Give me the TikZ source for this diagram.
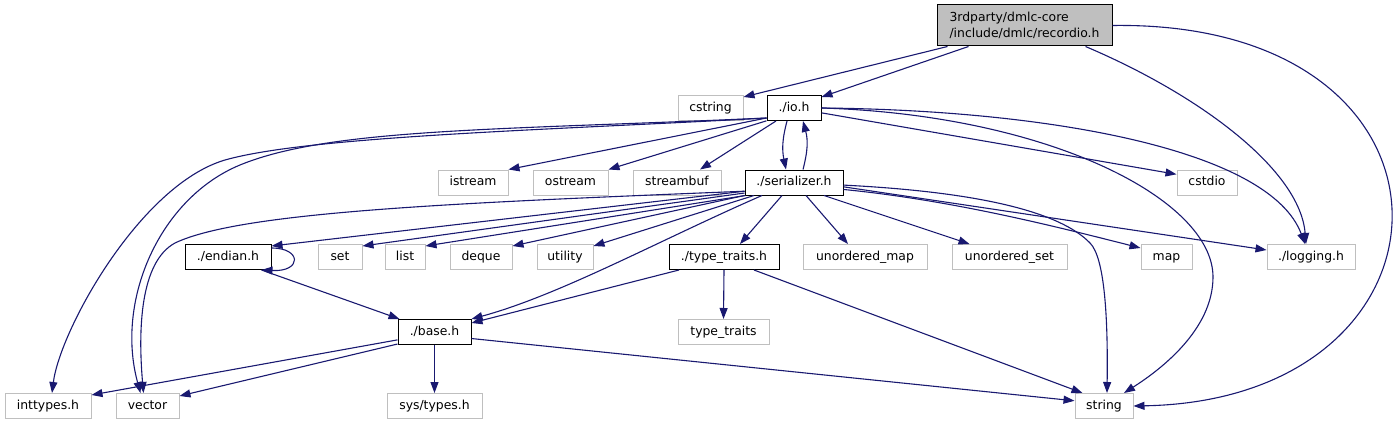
\documentclass[tikz,border=0pt]{standalone}
\usepackage{fontspec}
\setmainfont{DejaVu Sans}
\usetikzlibrary{arrows.meta}
\definecolor{midnight}{HTML}{191970}
\definecolor{grey75}{HTML}{BFBFBF}

\begin{document}
\begin{tikzpicture}[x=1pt, y=-1pt, >={Triangle[length=11pt,width=8pt]},
	every node/.style={font=\fontsize{12.4}{16}\selectfont, inner sep=0pt, minimum height=25pt, text height=9.4pt, text depth=2.6pt},
	hdr/.style={draw=black, line width=1pt},
	ext/.style={draw=grey75, line width=1pt},
	inc/.style={->, midnight, line width=1.1pt}]
	\useasboundingbox (0,0) rectangle (1397,425);
	\node[hdr, fill=grey75, minimum width=175pt, minimum height=41pt, align=left, text height={}, text depth={}] (rec) at (1024.5,25.5) {3rdparty/dmlc-core\\/include/dmlc/recordio.h};
	\node[ext, minimum width=65pt] (cstring) at (710.5,108) {cstring};
	\node[hdr, minimum width=54pt] (io) at (794,108) {./io.h};
	\node[ext, minimum width=70pt] (istream) at (473,182.5) {istream};
	\node[ext, minimum width=75pt] (ostream) at (570.5,182.5) {ostream};
	\node[ext, minimum width=88pt] (streambuf) at (677,182.5) {streambuf};
	\node[hdr, minimum width=98pt] (ser) at (794,182.5) {./serializer.h};
	\node[ext, minimum width=60pt] (cstdio) at (1207,182.5) {cstdio};
	\node[hdr, minimum width=86pt] (endian) at (228,257) {./endian.h};
	\node[ext, minimum width=44pt] (set) at (340,257) {set};
	\node[ext, minimum width=40pt] (list) at (405,257) {list};
	\node[ext, minimum width=62pt] (deque) at (481,257) {deque};
	\node[ext, minimum width=56pt] (utility) at (565,257) {utility};
	\node[hdr, minimum width=110pt] (tt) at (724,257) {./type\_traits.h};
	\node[ext, minimum width=124pt] (umap) at (865,257) {unordered\_map};
	\node[ext, minimum width=115pt] (uset) at (1009.5,257) {unordered\_set};
	\node[ext, minimum width=51pt] (map) at (1166.5,257) {map};
	\node[ext, minimum width=88pt] (logging) at (1311,257) {./logging.h};
	\node[hdr, minimum width=73pt] (base) at (434.5,332) {./base.h};
	\node[ext, minimum width=91pt] (stt) at (723.5,332) {type\_traits};
	\node[ext, minimum width=86pt] (inttypes) at (48,406) {inttypes.h};
	\node[ext, minimum width=63pt] (vector) at (147.5,406) {vector};
	\node[ext, minimum width=95pt] (systypes) at (434.5,406) {sys/types.h};
	\node[ext, minimum width=58pt] (string) at (1104,406) {string};

	\draw[inc] ([xshift=-77pt]rec.south) -- ([yshift=-2pt]cstring.north east);
	\draw[inc] ([xshift=-56pt]rec.south) -- ([yshift=-2pt]io.north east);
	\draw[inc] ([xshift=61pt]rec.south) .. controls (1200,95) and (1300,170) .. ([xshift=-5pt]logging.north);
	\draw[inc] (rec.east) .. controls (1485,20) and (1475,400) .. (string.east);

	\draw[inc] (io.200) -- (istream.north east);
	\draw[inc] (io.205) -- (ostream.north east);
	\draw[inc] ([xshift=-18pt]io.south) -- ([xshift=23pt]streambuf.north);
	\draw[inc] ([xshift=-7pt]io.south) .. controls (782,140) and (782,150) .. ([xshift=-8pt]ser.north);
	\draw[inc] ([xshift=9pt]ser.north) .. controls (808,150) and (808,140) .. ([xshift=9pt]io.south);
	\draw[inc] (io.-10) -- (cstdio.165);
	\draw[inc] (io.east) .. controls (1050,110) and (1270,150) .. ([xshift=-6pt]logging.north);
	\draw[inc] (io.east) .. controls (1050,115) and (1213,200) .. (1213,277) .. controls (1213,330) and (1160,370) .. ([xshift=20pt]string.north);
	\draw[inc] (io.200) .. controls (550,130) and (310,136) .. (225,160) .. controls (140,185) and (60,330) .. ([xshift=4pt]inttypes.north);
	\draw[inc] (io.200) .. controls (500,130) and (330,128) .. (240,165) .. controls (160,198) and (115,300) .. ([xshift=-7pt]vector.north);

	\draw[inc] (ser.190) .. controls (450,203) and (240,212) .. (175,243) .. controls (140,262) and (138,330) .. ([xshift=-4pt]vector.north);
	\draw[inc] (ser.190) -- ([yshift=-2pt]endian.north east);
	\draw[inc] (ser.192) -- ([yshift=-2pt]set.north east);
	\draw[inc] (ser.195) -- ([yshift=-2pt]list.north east);
	\draw[inc] (ser.south west) -- ([yshift=-2pt]deque.north east);
	\draw[inc] ([xshift=-40pt]ser.south) -- ([yshift=-2pt]utility.north east);
	\draw[inc] ([xshift=-32pt]ser.south) .. controls (660,240) and (560,295) .. (base.north east);
	\draw[inc] ([xshift=-12pt]ser.south) -- ([xshift=16pt]tt.north);
	\draw[inc] ([xshift=12pt]ser.south) -- ([xshift=-17pt]umap.north);
	\draw[inc] ([xshift=30pt]ser.south) -- ([xshift=-40pt]uset.north);
	\draw[inc] (ser.-8) .. controls (950,200) and (1050,225) .. ([yshift=-4pt]map.north west);
	\draw[inc] (ser.-5) -- ([yshift=-6pt]logging.north west);
	\draw[inc] (ser.-3) .. controls (980,192) and (1060,212) .. (1090,243) .. controls (1105,258) and (1108,320) .. ([xshift=3pt]string.north);

	\draw[inc] ([yshift=-4pt]endian.north east) .. controls (302,248) and (302,272) .. ([xshift=-10pt]endian.south east);
	\draw[inc] ([xshift=-10pt]endian.south east) -- ([xshift=2pt]base.north west);
	\draw[inc] ([xshift=-45pt]tt.south) -- ([yshift=-4pt]base.north east);
	\draw[inc] (tt.south) -- (stt.north);
	\draw[inc] ([xshift=30pt]tt.south) -- ([xshift=8pt]string.north west);

	\draw[inc] (base.192) -- ([yshift=-2pt]inttypes.north east);
	\draw[inc] (base.198) -- ([yshift=-3pt]vector.north east);
	\draw[inc] (base.south) -- (systypes.north);
	\draw[inc] (base.-10) -- (string.170);
\end{tikzpicture}
\end{document}
